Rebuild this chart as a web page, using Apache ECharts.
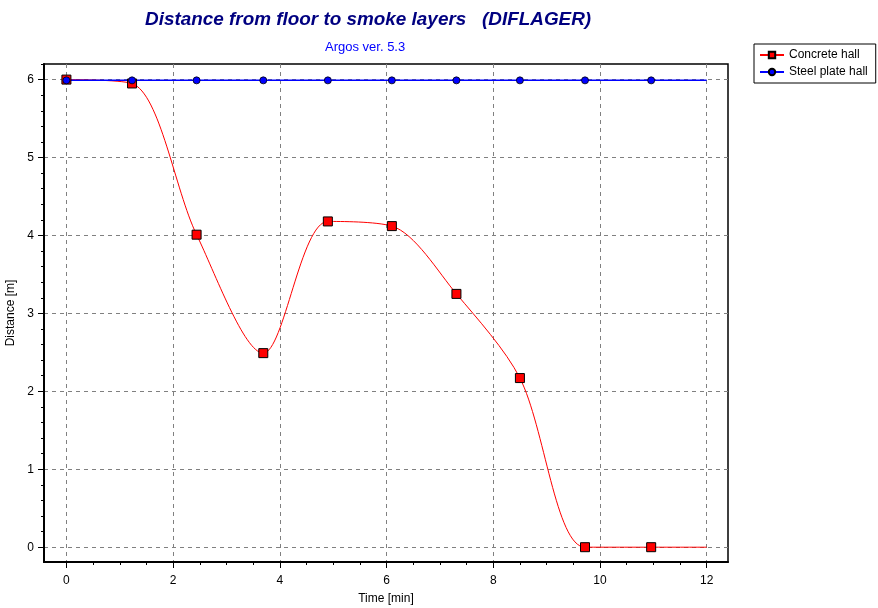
<!DOCTYPE html>
<html>
<head>
<meta charset="utf-8">
<script src="https://cdn.jsdelivr.net/npm/echarts@6/dist/echarts.min.js"></script>
<style>html,body{margin:0;padding:0;background:#fff}#c{width:878px;height:608px}</style>
</head>
<body>
<div id="c"></div>
<script>
const timeMin = [0, 1.23, 2.44, 3.69, 4.90, 6.10, 7.31, 8.50, 9.72, 10.96, 12];
const concreteHall = [6.0, 5.95, 4.01, 2.49, 4.18, 4.12, 3.25, 2.17, 0, 0, 0];
const steelPlateHall = [5.99, 5.99, 5.99, 5.99, 5.99, 5.99, 5.99, 5.99, 5.99, 5.99, 5.99];
const xTickLabels = [0, 2, 4, 6, 8, 10, 12];
const yTickLabels = [0, 1, 2, 3, 4, 5, 6];
const xMinorTicks = [];
for (let i = 0; i <= 24; i++) xMinorTicks.push(i * 0.5);
const yMinorTicks = [];
for (let i = 0; i <= 31; i++) yMinorTicks.push(+(i * 0.2).toFixed(1));

function pts(ys) {
  return timeMin.map((t, i) => i === timeMin.length - 1
    ? { value: [t, ys[i]], symbol: 'none' }
    : [t, ys[i]]);
}

const FONT = '"Liberation Sans", Arial, sans-serif';
const XMIN = -0.42, XMAX = 12.4, YMIN = -0.19, YMAX = 6.2;
const chart = echarts.init(document.getElementById('c'));
chart.setOption({
  animation: false,
  backgroundColor: '#fff',
  title: [
    { text: 'Distance from floor to smoke layers   (DIFLAGER)', left: 145, top: 10, padding: 0,
      textStyle: { fontFamily: FONT, fontSize: 18.9, fontWeight: 'bold', fontStyle: 'italic', color: '#000080' } },
    { text: 'Argos ver. 5.3', left: 325, top: 41, padding: 0,
      textStyle: { fontFamily: FONT, fontSize: 13, fontWeight: 'normal', color: '#0000ff' } }
  ],
  legend: {
    orient: 'vertical', left: 754, top: 44,
    backgroundColor: '#fff', borderColor: '#000', borderWidth: 1,
    padding: [5, 8, 5, 5], itemGap: 5, itemWidth: 24, itemHeight: 8,
    textStyle: { fontFamily: FONT, fontSize: 12, color: '#000' },
    data: ['Concrete hall', 'Steel plate hall']
  },
  grid: { left: 44, right: 150, top: 64, bottom: 46, containLabel: false, outerBoundsMode: 'none',
    show: true, borderColor: '#000', borderWidth: 1.5, backgroundColor: '#fff' },
  xAxis: [
    { type: 'value', min: XMIN, max: XMAX, position: 'bottom',
      name: 'Time [min]', nameLocation: 'middle', nameGap: 31,
      nameTextStyle: { fontFamily: FONT, fontSize: 12, color: '#000' },
      axisLine: { show: true, onZero: false, lineStyle: { color: '#000', width: 2 } },
      axisTick: { show: true, length: 6, customValues: xTickLabels, lineStyle: { color: '#000' } },
      axisLabel: { customValues: xTickLabels, fontFamily: FONT, fontSize: 12, color: '#000', margin: 13 },
      splitLine: { show: true, lineStyle: { color: '#808080', type: [4, 4], width: 1 } } },
    { type: 'value', min: XMIN, max: XMAX, position: 'bottom',
      axisLine: { show: false, onZero: false },
      axisTick: { show: true, length: 3, customValues: xMinorTicks, lineStyle: { color: '#000' } },
      axisLabel: { show: false }, splitLine: { show: false } }
  ],
  yAxis: [
    { type: 'value', min: YMIN, max: YMAX, position: 'left',
      name: 'Distance [m]', nameLocation: 'middle', nameGap: 26,
      nameTextStyle: { fontFamily: FONT, fontSize: 12, color: '#000' },
      axisLine: { show: true, onZero: false, lineStyle: { color: '#000', width: 2 } },
      axisTick: { show: true, length: 6, customValues: yTickLabels, lineStyle: { color: '#000' } },
      axisLabel: { customValues: yTickLabels, fontFamily: FONT, fontSize: 12, color: '#000', margin: 10 },
      splitLine: { show: true, lineStyle: { color: '#808080', type: [4, 4], width: 1 } } },
    { type: 'value', min: YMIN, max: YMAX, position: 'left',
      axisLine: { show: false, onZero: false },
      axisTick: { show: true, length: 3, customValues: yMinorTicks, lineStyle: { color: '#000' } },
      axisLabel: { show: false }, splitLine: { show: false } }
  ],
  series: [
    { name: 'Concrete hall', type: 'line', xAxisIndex: 0, yAxisIndex: 0,
      data: pts(concreteHall), smooth: 0.3,
      symbol: 'rect', symbolSize: 9,
      lineStyle: { color: '#ff0000', width: 1 },
      itemStyle: { color: '#ff0000', borderColor: '#000', borderWidth: 1 } },
    { name: 'Steel plate hall', type: 'line', xAxisIndex: 0, yAxisIndex: 0,
      data: pts(steelPlateHall),
      symbol: 'circle', symbolSize: 7,
      lineStyle: { color: '#0000ff', width: 1.5 },
      itemStyle: { color: '#0000ff', borderColor: '#000', borderWidth: 0.8 } }
  ]
});
</script>
</body>
</html>
